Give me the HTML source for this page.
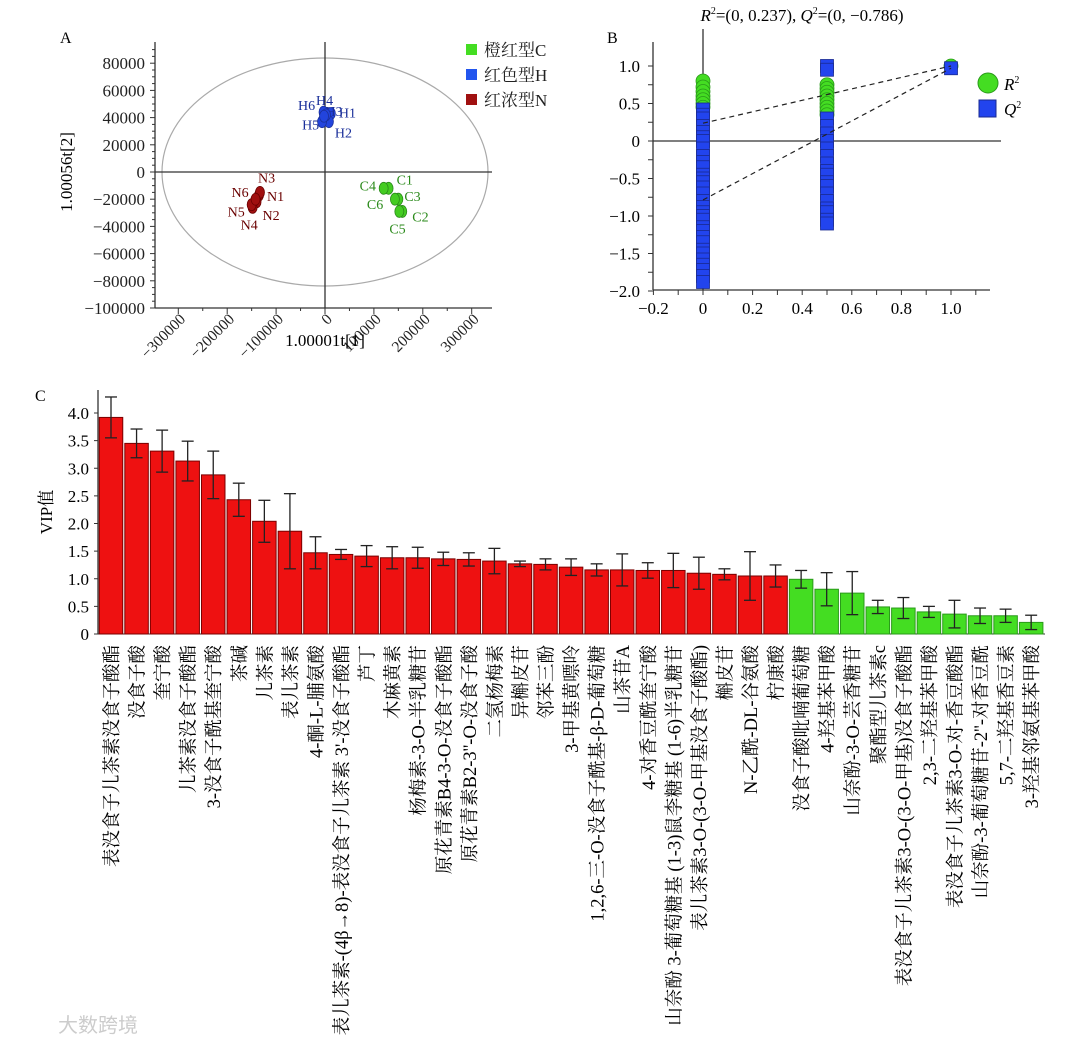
<!DOCTYPE html>
<html><head><meta charset="utf-8"><style>
body{margin:0;background:#fff}
svg{display:block;font-family:"Liberation Serif","Noto Serif CJK SC",serif}
</style></head><body>
<svg id="s" width="1080" height="1045" viewBox="0 0 1080 1045" xmlns="http://www.w3.org/2000/svg">
<text x="60" y="43" font-size="16">A</text>
<text x="607" y="43" font-size="16">B</text>
<text x="35" y="401" font-size="16">C</text>
<g id="A"></g>
<g id="B"></g>
<g id="C"></g>
<text x="58" y="1032" font-size="20" fill="#ccc" font-family="Noto Sans CJK SC,sans-serif">大数跨境</text>
</svg>
<script>
// ---------- Panel A data ----------
const aXTicks=[-300000,-200000,-100000,0,100000,200000,300000];
const aYTicks=[80000,60000,40000,20000,0,-20000,-40000,-60000,-80000,-100000];
const hX=[12000,8000,-3000,2000,-6000,-2000];const hY=[43000,37000,44000,42000,37000,41000];
const hLab=["H1","H2","H3","H4","H5","H6"];
const nX=[-135000,-140000,-133000,-148000,-150000,-142000];const nY=[-17000,-22000,-15000,-26000,-24000,-20000];
const nLab=["N1","N2","N3","N4","N5","N6"];
const cX=[130000,158000,150000,120000,152000,143000];const cY=[-12000,-29000,-20000,-12000,-29000,-20000];
const cLab=["C1","C2","C3","C4","C5","C6"];
// ---------- Panel B data ----------
const bXTicks=[-0.2,0,0.2,0.4,0.6,0.8,1.0];
const bYTicks=[1.0,0.5,0,-0.5,-1.0,-1.5,-2.0];
const r2At0=[0.8,0.72,0.66,0.6,0.55,0.5,0.45];
const r2At05=[0.75,0.7,0.65,0.6,0.55,0.5,0.45,0.4,0.35];
const r2At1=[1.0];
const q2At0=[0.42,0.35,0.3,0.2,0.12,0.05,0,-0.1,-0.2,-0.28,-0.35,-0.45,-0.5,-0.55,-0.62,-0.7,-0.8,-0.88,-0.95,-1.0,-1.05,-1.15,-1.2,-1.28,-1.35,-1.45,-1.5,-1.58,-1.65,-1.72,-1.8,-1.88];
const q2At05=[1.0,0.95,0.3,0.2,0.1,0.0,-0.1,-0.2,-0.3,-0.4,-0.45,-0.55,-0.6,-0.7,-0.8,-0.9,-0.95,-1.05,-1.1];
const q2At1=[0.97];
const r2Line=[0.237,1.0];const q2Line=[-0.786,0.97];
// ---------- Panel C data ----------
const cats=["表没食子儿茶素没食子酸酯","没食子酸","奎宁酸","儿茶素没食子酸酯","3-没食子酰基奎宁酸","茶碱","儿茶素","表儿茶素","4-酮-L-脯氨酸","表儿茶素-(4β→8)-表没食子儿茶素 3'-没食子酸酯","芦丁","木麻黄素","杨梅素-3-O-半乳糖苷","原花青素B4-3-O-没食子酸酯","原花青素B2-3''-O-没食子酸","二氢杨梅素","异槲皮苷","邻苯三酚","3-甲基黄嘌呤","1,2,6-三-O-没食子酰基-β-D-葡萄糖","山茶苷A","4-对香豆酰奎宁酸","山奈酚 3-葡萄糖基 (1-3)鼠李糖基 (1-6)半乳糖苷","表儿茶素3-O-(3-O-甲基没食子酸酯)","槲皮苷","N-乙酰-DL-谷氨酸","柠康酸","没食子酸吡喃葡萄糖","4-羟基苯甲酸","山奈酚-3-O-芸香糖苷","聚酯型儿茶素c","表没食子儿茶素3-O-(3-O-甲基)没食子酸酯","2,3-二羟基苯甲酸","表没食子儿茶素3-O-对-香豆酸酯","山奈酚-3-葡萄糖苷-2''-对香豆酰","5,7-二羟基香豆素","3-羟基邻氨基苯甲酸"];
const vip=[3.92,3.45,3.31,3.13,2.88,2.43,2.04,1.86,1.47,1.44,1.41,1.38,1.38,1.36,1.35,1.32,1.27,1.26,1.21,1.16,1.16,1.15,1.15,1.10,1.08,1.05,1.05,0.99,0.81,0.74,0.49,0.47,0.40,0.36,0.33,0.33,0.21];
const vipErr=[0.37,0.26,0.38,0.36,0.43,0.3,0.38,0.68,0.29,0.09,0.19,0.2,0.19,0.12,0.12,0.23,0.05,0.1,0.15,0.11,0.29,0.14,0.31,0.29,0.1,0.44,0.2,0.16,0.30,0.39,0.12,0.19,0.10,0.25,0.14,0.12,0.13];
const group=["N","N","N","N","N","N","N","N","N","N","N","N","N","N","N","N","N","N","N","N","N","N","N","N","N","N","N","C","C","C","C","C","C","C","C","C","C"];
const cTicks=[0,0.5,1.0,1.5,2.0,2.5,3.0,3.5,4.0];
const cTickLab=["0","0.5","1.0","1.5","2.0","2.5","3.0","3.5","4.0"];

const NS="http://www.w3.org/2000/svg";
function mk(p,t,a,txt){const e=document.createElementNS(NS,t);for(const k in a)e.setAttribute(k,a[k]);if(txt!==undefined)e.textContent=txt;p.appendChild(e);return e;}
function fmt(v){return v<0?"\u2212"+(-v):""+v;}

// ===== Panel A =====
(function(){
const g=document.getElementById('A');
const ax=v=>325+v/100000*48.9, ay=v=>172-v/20000*27.2;
mk(g,'ellipse',{cx:325,cy:172,rx:163,ry:114,fill:'none',stroke:'#aaa','stroke-width':1.2});
mk(g,'line',{x1:155,y1:172,x2:492,y2:172,stroke:'#333','stroke-width':1.3});
mk(g,'line',{x1:325,y1:42,x2:325,y2:308,stroke:'#333','stroke-width':1.3});
let yl=mk(g,'line',{x1:155,y1:42,x2:155,y2:308,stroke:'#333','stroke-width':1.3});

let xl=mk(g,'line',{x1:155,y1:308,x2:492,y2:308,stroke:'#333','stroke-width':1.3});

for(let v=-100000;v<=90000;v+=5000){const y=ay(v);if(y<42)continue;mk(g,'line',{x1:155,y1:y,x2:v%20000===0?150:152,y2:y,stroke:'#333'});}
aYTicks.forEach(v=>{const t=mk(g,'text',{x:145,y:ay(v)+6,'font-size':17,'text-anchor':'end',fill:'#222'},fmt(v));
});
for(let v=-350000;v<=350000;v+=50000){const x=ax(v);if(x<155||x>492)continue;mk(g,'line',{x1:x,y1:308,x2:x,y2:v%100000===0?314:311,stroke:'#333'});}
aXTicks.forEach(v=>{const x=ax(v);const t=mk(g,'text',{x:x+8,y:320,'font-size':15.5,'text-anchor':'end',fill:'#222',transform:`rotate(-45 ${x+8} 320)`},fmt(v));
});
let t=mk(g,'text',{x:72,y:172,'font-size':17,'text-anchor':'middle',transform:'rotate(-90 72 172)'},'1.00056t[2]');

t=mk(g,'text',{x:325,y:346,'font-size':17,'text-anchor':'middle'},'1.00001t[1]');

const groups=[[hX,hY,hLab,'#2244dd','#1a2f9a'],[nX,nY,nLab,'#a01010','#6a0000'],[cX,cY,cLab,'#44cc22','#2a8a1a']];
const offs={H1:[8,4],H2:[6,16],H3:[2,4],H4:[-10,-10],H5:[-20,8],H6:[-26,-6],N1:[8,6],N2:[6,18],N3:[-2,-10],N4:[-12,22],N5:[-24,12],N6:[-24,-2],C1:[8,-4],C2:[10,10],C3:[6,2],C4:[-24,2],C5:[-10,22],C6:[-28,10]};
groups.forEach(([xs,ys,ls,fill,col])=>{xs.forEach((v,i)=>{const cx=ax(v),cy=ay(ys[i]);
const p=mk(g,'ellipse',{cx:cx,cy:cy,rx:4.5,ry:6,fill:fill,stroke:col,'stroke-width':0.8});

const o=offs[ls[i]];const l=mk(g,'text',{x:cx+o[0],y:cy+o[1],'font-size':14,fill:col},ls[i]);
});});
const leg=[['橙红型C','#44dd22'],['红色型H','#2255ee'],['红浓型N','#a01010']];
leg.forEach((d,i)=>{const y=50+i*25;mk(g,'rect',{x:466,y:y-6,width:11,height:11,fill:d[1]});
const l=mk(g,'text',{x:484,y:y+6,'font-size':17,fill:'#222'},d[0]);
});
})();

// ===== Panel B =====
(function(){
const g=document.getElementById('B');
const bx=v=>703+v*248, by=v=>141-v*75;
let t=mk(g,'text',{x:802,y:21,'font-size':17,'text-anchor':'middle'});
t.innerHTML='<tspan font-style="italic">R</tspan><tspan font-size="10" dy="-7">2</tspan><tspan dy="7">=(0, 0.237), </tspan><tspan font-style="italic">Q</tspan><tspan font-size="10" dy="-7">2</tspan><tspan dy="7">=(0, −0.786)</tspan>';

mk(g,'line',{x1:653,y1:42,x2:653,y2:290,stroke:'#333','stroke-width':1.3});
mk(g,'line',{x1:653,y1:290,x2:990,y2:290,stroke:'#333','stroke-width':1.3});
mk(g,'line',{x1:653,y1:141,x2:1001,y2:141,stroke:'#333','stroke-width':1.3});
mk(g,'line',{x1:703,y1:29,x2:703,y2:290,stroke:'#333','stroke-width':1.3});
for(let v=-2;v<=1.21;v+=0.25){const y=by(v);mk(g,'line',{x1:653,y1:y,x2:648,y2:y,stroke:'#333'});}
bYTicks.forEach(v=>{const l=mk(g,'text',{x:640,y:by(v)+6,'font-size':17,'text-anchor':'end'},v===0?'0':(v<0?'\u2212':'')+Math.abs(v).toFixed(1));
});
for(let v=-0.2;v<=1.15;v+=0.1){const x=bx(v);mk(g,'line',{x1:x,y1:290,x2:x,y2:295,stroke:'#333'});}
bXTicks.forEach(v=>{const l=mk(g,'text',{x:bx(v),y:314,'font-size':17,'text-anchor':'middle'},v===0?'0':(v<0?'\u2212':'')+Math.abs(v).toFixed(1));
});
function circ(x,v){const c=mk(g,'circle',{cx:bx(x),cy:by(v),r:7,fill:'#44dd22',stroke:'#2a9a1a','stroke-width':0.8});
}
function sq(x,v){const c=mk(g,'rect',{x:bx(x)-6.5,y:by(v)-6.5,width:13,height:13,fill:'#2244ee',stroke:'#1a2a90','stroke-width':0.8});
}
r2At0.forEach(v=>circ(0,v));r2At05.forEach(v=>circ(0.5,v));r2At1.forEach(v=>circ(1,v));
q2At0.forEach(v=>sq(0,v));q2At05.forEach(v=>sq(0.5,v));q2At1.forEach(v=>sq(1,v));
let l=mk(g,'line',{x1:bx(0),y1:by(r2Line[0]),x2:bx(1),y2:by(r2Line[1]),stroke:'#222','stroke-dasharray':'5,4','stroke-width':1.2});

l=mk(g,'line',{x1:bx(0),y1:by(q2Line[0]),x2:bx(1),y2:by(q2Line[1]),stroke:'#222','stroke-dasharray':'5,4','stroke-width':1.2});

mk(g,'circle',{cx:988,cy:83,r:10,fill:'#44dd22',stroke:'#2a9a1a'});
let e=mk(g,'text',{x:1004,y:90,'font-size':17});e.innerHTML='<tspan font-style="italic">R</tspan><tspan font-size="10" dy="-7">2</tspan>';

mk(g,'rect',{x:979,y:100,width:17,height:17,fill:'#2244ee',stroke:'#1a2a90'});
e=mk(g,'text',{x:1004,y:115,'font-size':17});e.innerHTML='<tspan font-style="italic">Q</tspan><tspan font-size="10" dy="-7">2</tspan>';

})();

// ===== Panel C =====
(function(){
const g=document.getElementById('C');
const x0=111,pitch=25.56,bw=23.5;
const cy=v=>634-v*55.25, cx=i=>x0+i*pitch;
mk(g,'line',{x1:98,y1:634,x2:98,y2:390,stroke:'#333','stroke-width':1.3});
mk(g,'line',{x1:98,y1:634,x2:1045,y2:634,stroke:'#333','stroke-width':1});
cTicks.forEach((v,i)=>{mk(g,'line',{x1:98,y1:cy(v),x2:94,y2:cy(v),stroke:'#333'});
const t=mk(g,'text',{x:89,y:cy(v)+6,'font-size':17,'text-anchor':'end'},cTickLab[i]);
});
let t=mk(g,'text',{x:52,y:512,'font-size':17,'text-anchor':'middle',transform:'rotate(-90 52 512)'},'VIP值');

vip.forEach((v,i)=>{const red=group[i]==='N';const x=cx(i);
const b=mk(g,'rect',{x:x-bw/2,y:cy(v),width:bw,height:634-cy(v),fill:red?'#ee1111':'#44dd22',stroke:red?'#7a0000':'#2a9a1a','stroke-width':1});

const e=vipErr[i];const hi=cy(v+e),lo=cy(v-e);
mk(g,'line',{x1:x,y1:hi,x2:x,y2:lo,stroke:'#222','stroke-width':1.3});
mk(g,'line',{x1:x-6,y1:hi,x2:x+6,y2:hi,stroke:'#222','stroke-width':1.3});
mk(g,'line',{x1:x-6,y1:lo,x2:x+6,y2:lo,stroke:'#222','stroke-width':1.3});
const l=mk(g,'text',{x:x+7,y:645,'font-size':18.5,'text-anchor':'end',transform:`rotate(-90 ${x+7} 645)`},cats[i]);
});
})();
</script>
</body></html>
